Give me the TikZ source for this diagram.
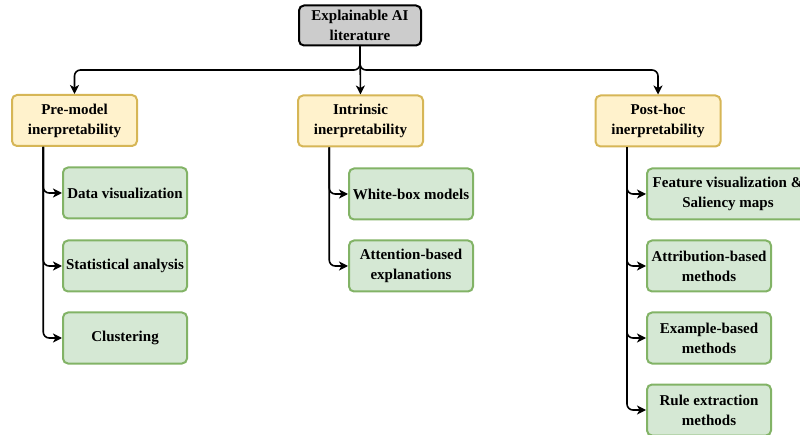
\documentclass[tikz,border=0pt]{standalone}
\usepackage{fontspec}
\setmainfont{Liberation Serif}[BoldFont={Liberation Serif Bold}]
\usetikzlibrary{arrows.meta}
\definecolor{rootfill}{HTML}{CCCCCC}
\definecolor{catfill}{HTML}{FFF2CC}
\definecolor{catline}{HTML}{D6B656}
\definecolor{leaffill}{HTML}{D5E8D4}
\definecolor{leafline}{HTML}{82B366}
\tikzset{
  box/.style={rectangle, rounded corners=5pt, line width=2pt, align=center,
    inner sep=2pt, font=\fontsize{15}{20}\selectfont\bfseries},
  rootbox/.style={box, draw=black, fill=rootfill, minimum width=122pt, minimum height=40pt},
  catbox/.style={box, draw=catline, fill=catfill, minimum width=125pt, minimum height=51pt},
  leafbox/.style={box, draw=leafline, fill=leaffill, minimum width=124pt, minimum height=51pt},
  link/.style={line width=1.6pt, rounded corners=6pt, -{Stealth[length=9pt,width=9pt,inset=2.5pt]}}
}
\begin{document}
\begin{tikzpicture}[x=1pt,y=-1pt]
\useasboundingbox (0,0) rectangle (800,435);
\clip (0,0) rectangle (800,435);

% top level
\node[rootbox] (root) at (360,25.5) {Explainable AI\\literature};

% three families of methods
\node[catbox] (pre)  at (74.5,120.5) {Pre-model\\inerpretability};
\node[catbox] (intr) at (360.5,121) {Intrinsic\\inerpretability};
\node[catbox] (post) at (658,121) {Post-hoc\\inerpretability};

% pre-model techniques
\node[leafbox] (dv) at (125,193) {Data visualization};
\node[leafbox] (sa) at (125,266) {Statistical analysis};
\node[leafbox] (cl) at (125,338) {Clustering};

% intrinsic techniques
\node[leafbox] (wb) at (411,194) {White-box models};
\node[leafbox] (ab) at (411,266) {Attention-based\\explanations};

% post-hoc techniques
\node[leafbox, minimum width=162pt] (fv) at (728,194) {Feature visualization \&\\Saliency maps};
\node[leafbox] (at) at (709,266) {Attribution-based\\methods};
\node[leafbox] (eb) at (709,338) {Example-based\\methods};
\node[leafbox] (re) at (709,410) {Rule extraction\\methods};

% root to families
\draw[link] (root.south) |- (360,70) -| (pre.north);
\draw[link] (root.south) |- (360,70) -| (post.north);
\draw[link] (root.south) -- (intr.north);

% families to techniques
\foreach \c in {dv,sa,cl}
  \draw[link] ([xshift=-31.25pt]pre.south) |- (\c.west);
\foreach \c in {wb,ab}
  \draw[link] ([xshift=-31.25pt]intr.south) |- (\c.west);
\foreach \c in {fv,at,eb,re}
  \draw[link] ([xshift=-31pt]post.south) |- (\c.west);
\end{tikzpicture}
\end{document}
